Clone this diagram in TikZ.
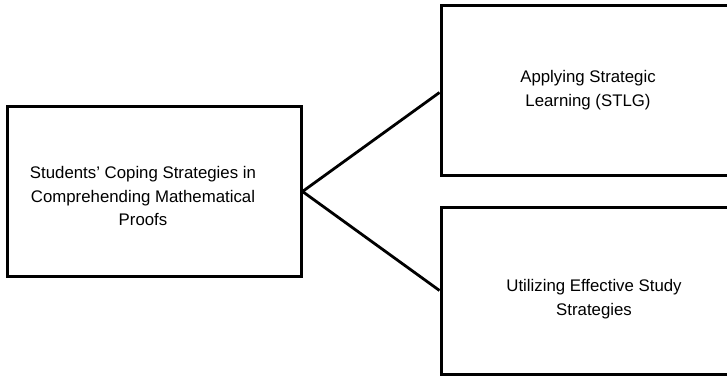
\documentclass[tikz,border=0pt]{standalone}
\usepackage{fontspec}
\setmainfont{Liberation Sans}
\begin{document}
\begin{tikzpicture}[x=1pt,y=-1pt,
  box/.style={draw=black, line width=3pt, inner sep=0pt},
  txt/.style={align=center, inner sep=0pt,
    font=\fontsize{16.8}{23.5}\selectfont},
  link/.style={draw=black, line width=2.8pt}]
\useasboundingbox (0,0) rectangle (727,377);
\clip (0,0) rectangle (727,377);
\node[box, minimum width=294pt, minimum height=169pt] (root) at (154,191.5) {};
\node[box, minimum width=296pt, minimum height=169pt] (stlg) at (589,90.5) {};
\node[box, minimum width=296pt, minimum height=167pt] (study) at (589,290.5) {};
\node[txt] (roottxt) at (143,196)
  {Students' Coping Strategies in\\Comprehending Mathematical\\Proofs};
\node[txt] (stlgtxt) at (588,90)
  {Applying Strategic\\Learning (STLG)};
\node[txt] (studytxt) at (594,299)
  {Utilizing Effective Study\\Strategies};
\draw[link] ([yshift=-2pt]stlg.west) -- (root.east) -- (study.west);
\end{tikzpicture}
\end{document}
